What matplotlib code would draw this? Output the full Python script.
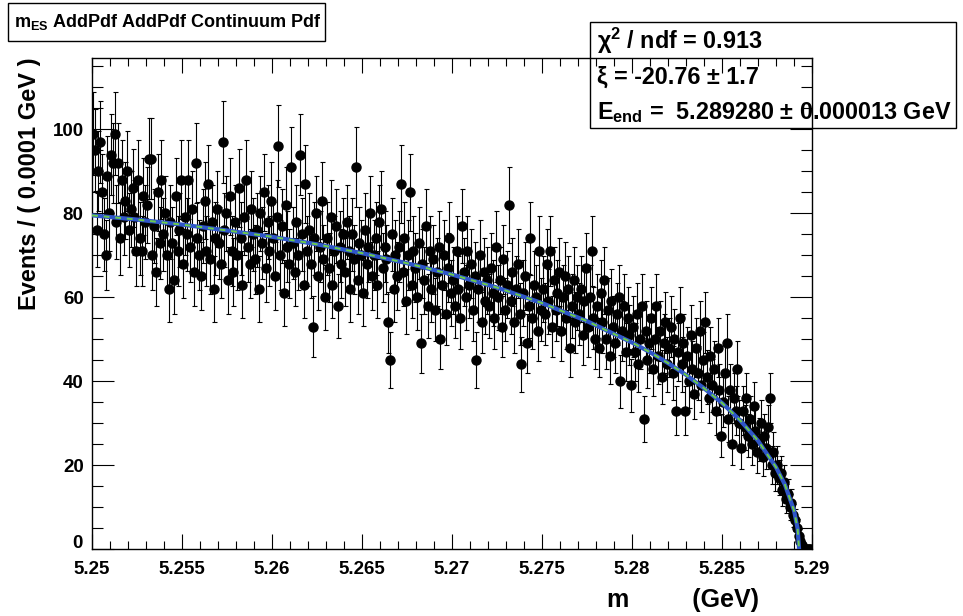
import numpy as np
import matplotlib
matplotlib.use("Agg")
import matplotlib.pyplot as plt
from matplotlib.ticker import MultipleLocator, AutoMinorLocator, FuncFormatter
from matplotlib.patches import Rectangle

plt.rcParams["font.family"] = ["Liberation Sans", "DejaVu Sans"]
plt.rcParams["font.weight"] = "bold"
plt.rcParams["mathtext.fontset"] = "custom"
plt.rcParams["mathtext.rm"] = "Liberation Sans:bold"
plt.rcParams["mathtext.bf"] = "Liberation Sans:bold"
plt.rcParams["mathtext.it"] = "Liberation Sans:bold"

# histogram: 400 bins of 0.0001 GeV from 5.25 to 5.29
bin_lo = 5.25
bin_width = 0.0001

# counts per bin, split in 0.005 GeV slices (50 bins each)
counts_5250 = [99, 95, 76, 90, 97, 85, 75, 70, 89, 80,
               94, 92, 99, 78, 92, 74, 88, 79, 83, 90,
               76, 81, 86, 79, 71, 88, 74, 71, 84, 78,
               82, 93, 93, 70, 77, 66, 85, 73, 88, 75,
               80, 70, 62, 78, 73, 64, 84, 71, 76, 88]
counts_5255 = [68, 79, 75, 88, 72, 81, 66, 92, 74, 70,
               65, 77, 83, 71, 87, 69, 78, 62, 74, 81,
               73, 68, 97, 76, 80, 64, 84, 71, 66, 78,
               70, 86, 74, 63, 79, 88, 72, 68, 81, 75,
               69, 76, 62, 80, 73, 85, 67, 78, 71, 83]
counts_5260 = [74, 65, 79, 96, 70, 77, 61, 82, 72, 68,
               91, 73, 66, 78, 70, 94, 75, 63, 87, 71,
               76, 68, 53, 74, 80, 65, 72, 83, 69, 60,
               74, 67, 79, 63, 71, 77, 58, 72, 68, 75,
               66, 78, 71, 62, 75, 69, 91, 64, 73, 70]
counts_5265 = [61, 76, 68, 72, 80, 65, 70, 74, 63, 78,
               81, 67, 72, 69, 54, 45, 75, 62, 70, 65,
               72, 87, 66, 74, 59, 70, 85, 63, 71, 67,
               60, 73, 49, 68, 64, 77, 58, 71, 62, 69,
               57, 66, 72, 50, 63, 70, 56, 67, 74, 61]
counts_5270 = [64, 58, 71, 62, 55, 77, 66, 60, 71, 63,
               68, 57, 65, 45, 62, 70, 54, 66, 59, 64,
               58, 67, 61, 55, 72, 60, 64, 53, 69, 57,
               63, 82, 59, 66, 54, 62, 68, 56, 44, 61,
               65, 49, 58, 74, 55, 63, 60, 52, 71, 57]
counts_5275 = [62, 56, 68, 59, 71, 53, 64, 57, 61, 66,
               52, 60, 65, 55, 62, 48, 58, 64, 54, 60,
               56, 62, 51, 59, 67, 53, 60, 71, 55, 50,
               58, 48, 61, 54, 64, 50, 57, 46, 59, 53,
               49, 56, 60, 40, 52, 58, 47, 55, 51, 39]
counts_5280 = [53, 47, 56, 44, 50, 58, 31, 52, 45, 49,
               55, 43, 50, 58, 46, 52, 41, 49, 54, 44,
               48, 53, 42, 50, 33, 47, 55, 44, 49, 33,
               46, 40, 51, 43, 37, 48, 42, 52, 39, 45,
               54, 41, 36, 46, 39, 43, 33, 48, 38, 27]
counts_5285 = [35, 42, 49, 31, 38, 25, 36, 33, 43, 30,
               24, 33, 29, 36, 27, 31, 25, 34, 28, 23,
               26, 30, 22, 27, 24, 29, 36, 20, 23, 18,
               20, 17, 18, 14, 16, 12, 13, 10, 11, 8,
               7, 5, 3, 2, 1, 0, 0, 0, 0, 0]

# fitted ARGUS curve
curve_m = [5.25, 5.2525, 5.255, 5.2575, 5.26, 5.2625, 5.265, 5.2675, 5.27,
           5.2725, 5.275, 5.2775, 5.28, 5.281, 5.282, 5.283, 5.284, 5.285,
           5.286, 5.287, 5.288, 5.2885, 5.289, 5.2892, 5.28928]
curve_y = [79.5, 78.5, 77.3, 75.9, 74.4, 72.6, 70.5, 68.1, 65.4,
           62.3, 58.6, 54.3, 49.2, 46.9, 44.3, 41.5, 38.3, 34.8,
           30.7, 25.8, 19.5, 15.3, 9.2, 4.9, 0.0]

title_text = r"$\mathbf{m_{ES}}$ AddPdf AddPdf Continuum Pdf"
stat_lines = [r"$\mathbf{\chi^{2}}$ / ndf = 0.913",
              "\u03be = -20.76 \u00b1 1.7",
              r"$\mathbf{E_{end}}$ =  5.289280 $\pm$ 0.000013 GeV"]

counts = np.array(counts_5250 + counts_5255 + counts_5260 + counts_5265
                  + counts_5270 + counts_5275 + counts_5280 + counts_5285, dtype=float)
centers = bin_lo + bin_width * (np.arange(counts.size) + 0.5)
errors = np.sqrt(counts)

fig = plt.figure(figsize=(9.63, 6.16), dpi=100)
ax = fig.add_axes([92 / 963, 1 - 549 / 616, 720 / 963, (549 - 58) / 616])

ax.errorbar(centers, counts, yerr=errors, fmt="o", color="black", ms=6.5,
            elinewidth=0.8, capsize=1.8, capthick=0.8, zorder=2)
ax.plot(curve_m, curve_y, color="#2f56c8", lw=3.0, zorder=3)
ax.plot(curve_m, curve_y, color="#6ccb4c", lw=1.4, ls=(0, (3, 3)), zorder=4)

ax.set_xlim(5.25, 5.29)
ax.set_ylim(0, 117)

ax.xaxis.set_major_locator(MultipleLocator(0.005))
ax.xaxis.set_minor_locator(MultipleLocator(0.001))
ax.yaxis.set_major_locator(MultipleLocator(20))
ax.yaxis.set_minor_locator(AutoMinorLocator(4))
ax.xaxis.set_major_formatter(FuncFormatter(lambda v, p: f"{v:g}"))
# the "0" is drawn separately, lifted a little as ROOT does
ax.yaxis.set_major_formatter(FuncFormatter(lambda v, p: "" if v == 0 else f"{v:g}"))

ax.tick_params(which="both", direction="in", top=True, right=True,
               labelsize=13.5, width=0.8)
ax.tick_params(axis="x", which="major", length=10.5, pad=9)
ax.tick_params(axis="x", which="minor", length=5.5)
ax.tick_params(axis="y", which="major", length=15.5, pad=6)
ax.tick_params(axis="y", which="minor", length=7.8)
for s in ax.spines.values():
    s.set_linewidth(1.0)

ax.text(-9 / 720, 6 / 491, "0", transform=ax.transAxes, fontsize=13.5,
        fontweight="bold", ha="right", va="center")

ax.set_ylabel("Events / ( 0.0001 GeV )", fontsize=17, fontweight="bold",
              loc="top", labelpad=8)
ax.set_xlabel("m         (GeV)", fontsize=18, fontweight="bold", loc="right",
              labelpad=7)
ax.xaxis.label.set_position((0.927, 0))

fig.canvas.draw()
for lab in ax.get_xticklabels() + ax.get_yticklabels():
    lab.set_fontweight("bold")
ax.get_xticklabels()[0].set_ha("left")

# title box
fig.patches.append(Rectangle((8 / 963, 1 - 41 / 616), 317 / 963, 38 / 616,
                             transform=fig.transFigure, fill=False,
                             edgecolor="black", lw=1.0))
fig.text(14 / 963, 1 - 22 / 616, title_text, fontsize=13, fontweight="bold",
         va="center", ha="left")

# stat box
fig.patches.append(Rectangle((590 / 963, 1 - 128 / 616), 366 / 963, 106 / 616,
                             transform=fig.transFigure, fill=False,
                             edgecolor="black", lw=1.0, zorder=10))
for i, line in enumerate(stat_lines):
    fig.text(597 / 963, 1 - (41 + 36 * i) / 616, line, fontsize=16.8,
             fontweight="bold", va="center", ha="left")

fig.savefig("out.png", dpi=100)
